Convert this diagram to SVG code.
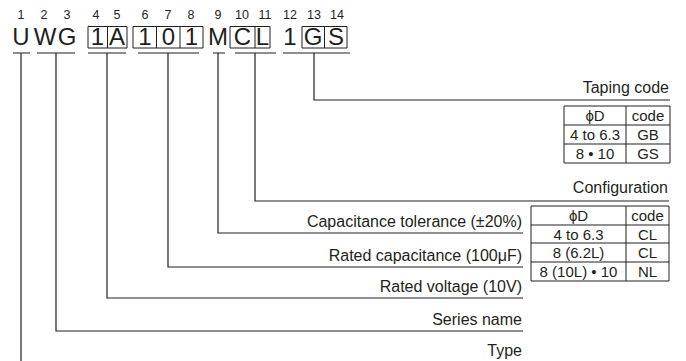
<svg xmlns="http://www.w3.org/2000/svg" width="686" height="361" viewBox="0 0 686 361">
<style>
text{font-family:"Liberation Sans",Arial,sans-serif;fill:#231f20}
.n{font-size:12.5px;text-anchor:middle}
.c{font-size:24px;text-anchor:middle}
.l{font-size:16px;text-anchor:end}
.t{font-size:15px;text-anchor:middle}
.ln{stroke:#231f20;stroke-width:1.2;fill:none}
.bx{stroke:#231f20;stroke-width:1;fill:none}
</style>
<rect width="686" height="361" fill="#fff"/>
<g id="code">
<text class="n" x="21" y="19">1</text><text class="n" x="44" y="19">2</text><text class="n" x="67" y="19">3</text>
<text class="n" x="96" y="19">4</text><text class="n" x="117" y="19">5</text>
<text class="n" x="145" y="19">6</text><text class="n" x="168" y="19">7</text><text class="n" x="191" y="19">8</text>
<text class="n" x="218" y="19">9</text><text class="n" x="242" y="19">10</text><text class="n" x="265" y="19">11</text>
<text class="n" x="290" y="19">12</text><text class="n" x="314" y="19">13</text><text class="n" x="337" y="19">14</text>
<text class="c" x="21" y="45">U</text><text class="c" x="45" y="45">W</text><text class="c" x="67" y="45">G</text>
<text class="c" x="97.5" y="45">1</text><text class="c" x="117" y="45">A</text>
<text class="c" x="145" y="45">1</text><text class="c" x="168.5" y="45">0</text><text class="c" x="191.5" y="45">1</text>
<text class="c" x="218" y="45">M</text><text class="c" x="242.5" y="45">C</text><text class="c" x="262.5" y="45">L</text>
<text class="c" x="290" y="45">1</text><text class="c" x="313" y="45">G</text><text class="c" x="336" y="45">S</text>
<path class="bx" d="M88 26.5H127V48H88Z M107.5 26.5V48 M133 26.5H203V48H133Z M156.5 26.5V48 M180 26.5V48 M230 26.5H270V48H230Z M255 26.5V48 M302 26.5H347V48H302Z M324.5 26.5V48"/>
</g>
<g id="connectors">
<path class="ln" d="M13 53H30 M37 53H75 M88 53H126 M138 53H199 M213 53H225 M235 53H276 M283 53H350"/>
<path class="ln" d="M21 53V361"/>
<path class="ln" d="M56 53V331H523"/>
<path class="ln" d="M107 53V298H523"/>
<path class="ln" d="M168 53V267H523"/>
<path class="ln" d="M218 53V233H523"/>
<path class="ln" d="M255 53V201H669"/>
<path class="ln" d="M314 53V100H670"/>
</g>
<g id="taping">
<text class="l" x="669" y="93">Taping code</text>
<path class="bx" d="M564 106H670V163H564Z M626 106V163 M564 125H670 M564 144H670"/>
<text class="t" x="595" y="121">ϕD</text><text class="t" x="648" y="121">code</text>
<text class="t" x="595" y="140">4 to 6.3</text><text class="t" x="648" y="140">GB</text>
<text class="t" x="595" y="159">8 • 10</text><text class="t" x="648" y="159">GS</text>
</g>
<g id="configuration">
<text class="l" x="668" y="193">Configuration</text>
<path class="bx" d="M531 206H669V281H531Z M626 206V281 M531 225H669 M531 243H669 M531 262H669"/>
<text class="t" x="578.5" y="221">ϕD</text><text class="t" x="647.5" y="221">code</text>
<text class="t" x="578.5" y="239.5">4 to 6.3</text><text class="t" x="647.5" y="239.5">CL</text>
<text class="t" x="578.5" y="258">8 (6.2L)</text><text class="t" x="647.5" y="258">CL</text>
<text class="t" x="578.5" y="277">8 (10L) • 10</text><text class="t" x="647.5" y="277">NL</text>
</g>
<g id="labels">
<text class="l" x="522" y="227">Capacitance tolerance (±20%)</text>
<text class="l" x="522" y="261">Rated capacitance (100μF)</text>
<text class="l" x="522" y="292">Rated voltage (10V)</text>
<text class="l" x="522" y="325">Series name</text>
<text class="l" x="522" y="356">Type</text>
</g>
</svg>
